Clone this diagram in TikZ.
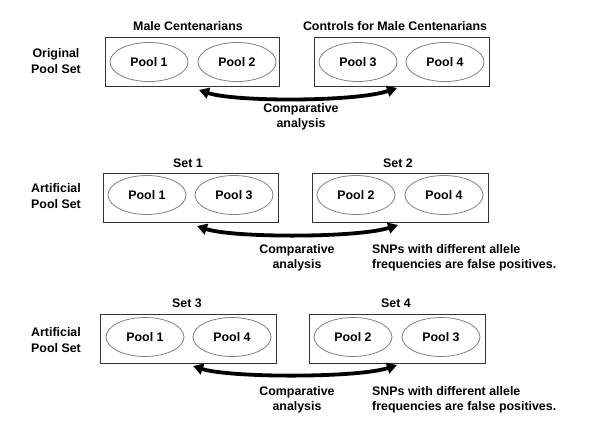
\documentclass[tikz,border=0pt]{standalone}
\usepackage{fontspec}
\setmainfont{Liberation Sans}
\usetikzlibrary{arrows.meta,shapes.geometric}
\begin{document}
\begin{tikzpicture}[x=1pt,y=-1pt,
  txt/.style={font=\fontsize{12.4}{15.5}\selectfont\bfseries, inner sep=0pt, align=center},
  setbox/.style={draw=black!80, line width=0.9pt, minimum height=49pt, inner sep=0pt},
  pool/.style={ellipse, draw=black!50, line width=0.8pt, minimum width=78pt, minimum height=39pt, inner sep=0pt, font=\fontsize{12.4}{14}\selectfont\bfseries},
  cmp/.style={line width=3.8pt, {Triangle[length=10pt,width=11pt]}-{Triangle[length=10pt,width=11pt]}}
]
\useasboundingbox (0,0) rectangle (600,430);
% Row 1
\node[setbox, minimum width=174pt] (b11) at (192,61.5) {};
\node[setbox, minimum width=175pt] (b12) at (401.5,61.5) {};
\node[pool] (p11) at (149,62) {Pool 1};
\node[pool] (p12) at (237,62) {Pool 2};
\node[pool] (p13) at (358,62) {Pool 3};
\node[pool] (p14) at (445,62) {Pool 4};
\node[txt] (t11) at (188,26) {Male Centenarians};
\node[txt] (t12) at (395,26) {Controls for Male Centenarians};
\node[txt] (l1) at (56,61) {Original\\Pool Set};
\coordinate (a1l) at (199,90);
\coordinate (a1r) at (397,88);
\draw[cmp] (a1l) .. controls (235,102) and (355,102) .. (a1r);
\node[txt] (c1) at (301,117) {Comparative\\analysis};
% Row 2
\node[setbox, minimum width=175pt] (b21) at (190.5,197.5) {};
\node[setbox, minimum width=176pt] (b22) at (400,197.5) {};
\node[pool] (p21) at (147,195) {Pool 1};
\node[pool] (p22) at (234,195) {Pool 3};
\node[pool] (p23) at (356,195) {Pool 2};
\node[pool] (p24) at (444,195) {Pool 4};
\node[txt] (t21) at (188,163) {Set 1};
\node[txt] (t22) at (398,163) {Set 2};
\node[txt] (l2) at (56,196) {Artificial\\Pool Set};
\coordinate (a2l) at (197,226);
\coordinate (a2r) at (398,225);
\draw[cmp] (a2l) .. controls (233,238) and (357,238) .. (a2r);
\node[txt] (c2) at (297,258) {Comparative\\analysis};
\node[txt, anchor=west, align=left] (s2) at (372,258) {SNPs with different allele\\frequencies are false positives.};
% Row 3
\node[setbox, minimum width=176pt] (b31) at (188,338.5) {};
\node[setbox, minimum width=176pt] (b32) at (397,338.5) {};
\node[pool] (p31) at (145,337) {Pool 1};
\node[pool] (p32) at (232,337) {Pool 4};
\node[pool] (p33) at (353,337) {Pool 2};
\node[pool] (p34) at (441,337) {Pool 3};
\node[txt] (t31) at (187,303) {Set 3};
\node[txt] (t32) at (396,303) {Set 4};
\node[txt] (l3) at (56,340) {Artificial\\Pool Set};
\coordinate (a3l) at (193,366);
\coordinate (a3r) at (397,365);
\draw[cmp] (a3l) .. controls (230,378) and (358,378) .. (a3r);
\node[txt] (c3) at (297,400) {Comparative\\analysis};
\node[txt, anchor=west, align=left] (s3) at (372,400) {SNPs with different allele\\frequencies are false positives.};
\end{tikzpicture}
\end{document}
